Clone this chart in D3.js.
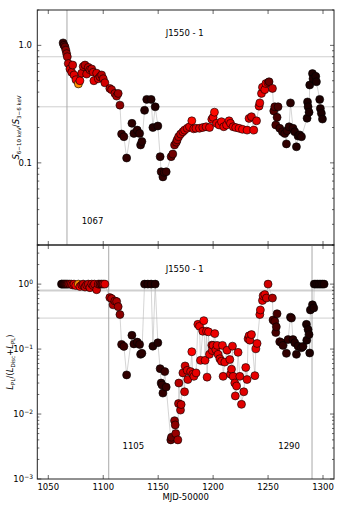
<!DOCTYPE html>
<html>
<head>
<meta charset="utf-8">
<script src="https://cdn.jsdelivr.net/npm/d3@7"></script>
<style>
  body { margin:0; background:#fff; }
  svg text { font-family: "DejaVu Sans", sans-serif; fill:#000; }
</style>
</head>
<body>
<div id="chart"></div>
<script>

// ---------- top panel : hardness ratio S(6-10 keV)/S(3-6 keV) ----------
var hardDay = [1063.5,1064.3,1065.2,1066.0,1066.7,1067.3,1068.2,1069.7,1071.3,1072.2,1073.4,1075.2,1077.4,1078.8,1080.4,1081.8,1083.4,1084.9,1086.4,1087.9,1089.5,1090.9,1091.5,1094.0,1095.5,1097.0,1098.5,1100.0,1101.5,
  1106.0,1107.6,1110.6,1112.2,1113.6,1115.2,1116.7,1118.8,1121.3,
  1126.1,1127.9,1130.9,1133.1,1134.0,1135.2,1137.6,1139.6,1143.6,1145.2,1147.3,1149.7,
  1151.8,1152.7,1154.3,1155.5,1157.3,1161.8,1163.3,1164.9,1166.5,1167.3,1168.6,1170.4,1172.5,1174.0,1176.4,1178.5,1180.6,1182.3,1184.4,
  1187.6,1190.6,1193.6,1196.7,1198.8,1200.0,1201.2,1203.1,1205.5,1207.6,1209.7,1212.2,1214.5,1215.8,1218.2,1220.6,1223.6,1226.7,1230.9,1232.7,1234.9,1237.0,1239.5,
  1241.8,1242.5,1244.0,1244.9,1247.0,1248.0,1250.0,1250.9,1254.0,
  1255.2,1256.1,1257.0,1258.2,1259.1,1260.6,1263.1,1265.2,1266.7,1267.3,1269.1,1270.4,1272.7,1274.3,1275.8,1277.3,1278.8,1280.4,
  1285.5,1285.9,1286.4,1287.3,1287.9,1290.4,1290.9,1293.4,1294.0,1297.0,1297.6,1298.5,1299.5];
var hardRatio = [1.05,1.00,0.97,0.91,0.85,0.80,0.70,0.63,0.59,0.68,0.56,0.51,0.47,0.50,0.58,0.66,0.68,0.57,0.65,0.62,0.63,0.59,0.50,0.58,0.52,0.54,0.56,0.52,0.48,
  0.43,0.42,0.39,0.37,0.39,0.31,0.176,0.167,0.11,
  0.217,0.178,0.19,0.178,0.142,0.152,0.28,0.347,0.347,0.20,0.30,0.206,
  0.113,0.084,0.076,0.083,0.084,0.113,0.119,0.142,0.150,0.157,0.167,0.176,0.184,0.19,0.197,0.203,0.228,0.195,0.197,
  0.197,0.20,0.203,0.20,0.235,0.244,0.27,0.217,0.21,0.224,0.203,0.21,0.228,0.217,0.203,0.20,0.197,0.193,0.19,0.239,0.247,0.19,0.228,
  0.304,0.324,0.39,0.44,0.42,0.473,0.48,0.49,0.43,
  0.277,0.30,0.21,0.244,0.30,0.197,0.184,0.178,0.145,0.188,0.203,0.324,0.197,0.184,0.137,0.169,0.173,0.167,
  0.24,0.33,0.30,0.27,0.46,0.575,0.52,0.545,0.49,0.347,0.29,0.264,0.236];
var hardTone = [0.08,0.12,0.15,0.2,0.22,0.25,0.28,0.3,0.3,0.3,0.32,0.34,0.58,0.36,0.3,0.28,0.26,0.3,0.27,0.29,0.27,0.3,0.33,0.3,0.31,0.28,0.26,0.28,0.3,
  0.27,0.26,0.25,0.24,0.23,0.2,0.08,0.08,0.07,
  0.06,0.06,0.06,0.06,0.06,0.06,0.05,0.05,0.05,0.05,0.05,0.05,
  0.07,0.07,0.07,0.08,0.08,0.14,0.16,0.2,0.22,0.24,0.26,0.28,0.3,0.3,0.31,0.32,0.38,0.32,0.33,
  0.32,0.31,0.33,0.33,0.34,0.34,0.38,0.33,0.34,0.35,0.33,0.34,0.36,0.33,0.33,0.34,0.35,0.35,0.34,0.33,0.3,0.33,0.32,
  0.33,0.33,0.33,0.33,0.33,0.33,0.3,0.15,0.28,
  0.12,0.12,0.1,0.1,0.1,0.08,0.07,0.07,0.07,0.07,0.06,0.06,0.06,0.05,0.05,0.05,0.05,0.05,
  0.04,0.04,0.04,0.04,0.04,0.04,0.04,0.04,0.04,0.04,0.04,0.04,0.04];

// ---------- bottom panel : power-law fraction L_PL/(L_Disc+L_PL) ----------
var plDay = [1062.0,1063.0,1064.0,1065.0,1066.0,1067.0,1068.0,1069.5,1071.0,1072.2,1073.4,1075.0,1077.4,1078.8,1080.4,1081.8,1083.4,1084.9,1086.4,1087.9,1089.5,1090.9,1092.0,1094.0,1095.5,1097.0,1098.5,1100.0,1101.5,
  1106.0,1107.6,1109.0,1110.6,1112.2,1113.6,1115.2,1116.7,1118.8,1121.3,
  1126.1,1127.9,1130.9,1133.1,1134.0,1135.2,1137.6,1140.6,1143.6,1145.2,1147.3,1149.7,
  1151.8,1152.7,1153.5,1154.3,1156.0,1157.3,1161.5,1162.1,1164.9,1165.5,1166.0,1167.9,1168.5,1168.8,1170.3,1170.9,1172.5,1174.0,1174.5,1176.4,1177.0,1179.5,1180.6,1181.5,1182.5,1184.5,
  1186.1,1187.6,1188.5,1190.6,1191.5,1192.7,1194.0,1194.5,1195.8,1196.7,1198.8,1199.2,1200.0,1201.5,1202.5,1203.6,1204.5,1206.1,1207.6,1208.5,1209.1,1210.6,1212.7,1215.2,1215.8,1216.7,1217.6,1218.2,1219.7,1220.2,1221.3,1222.7,1224.3,1225.8,1227.9,1229.7,1230.9,1231.8,1232.7,1233.4,1234.9,1238.0,1238.9,1240.0,
  1242.5,1243.0,1244.9,1245.5,1247.0,1248.5,1250.0,1254.0,
  1254.5,1256.1,1257.0,1257.5,1258.2,1260.6,1262.2,1263.6,1266.7,1268.2,1270.4,1271.3,1272.7,1274.3,1275.8,1277.3,1280.4,1281.8,
  1284.9,1285.2,1286.4,1287.3,1287.9,1288.5,1290.4,1291.6,1292.0,1293.5,1295.0,1296.5,1298.0,1299.5,1301.0];
var plFrac = [1.0,1.0,1.0,1.0,1.0,1.0,1.0,1.0,1.0,0.97,1.0,0.95,1.0,0.92,0.97,1.0,0.90,0.97,1.0,0.88,1.0,0.95,1.0,0.82,1.0,1.0,1.0,1.0,1.0,
  0.62,0.60,0.48,0.55,0.54,0.45,0.34,0.118,0.11,0.04,
  0.163,0.12,0.128,0.118,0.083,0.086,1.0,1.0,1.0,0.111,1.0,0.125,
  0.05,0.030,0.028,0.021,0.045,0.026,0.0040,0.0044,0.0079,0.0068,0.0050,0.0040,0.0145,0.030,0.0115,0.014,0.043,0.022,0.055,0.047,0.034,0.045,0.091,0.041,0.038,0.043,
  0.24,0.224,0.067,0.188,0.274,0.067,0.188,0.037,0.184,0.083,0.115,0.095,0.114,0.173,0.098,0.114,0.083,0.071,0.065,0.114,0.038,0.063,0.096,0.069,0.041,0.049,0.111,0.038,0.030,0.019,0.027,0.089,0.038,0.0141,0.022,0.052,0.034,0.144,0.16,0.137,0.167,0.039,0.101,0.122,
  0.34,0.40,0.56,0.66,0.69,0.61,1.0,0.61,
  0.28,0.267,0.18,0.22,0.35,0.13,0.125,0.114,0.086,0.14,0.31,0.30,0.14,0.125,0.083,0.111,0.105,0.11,
  0.24,0.137,0.20,0.167,0.087,0.40,0.48,0.43,1.0,1.0,1.0,1.0,1.0,1.0,1.0];
var plTone = [0.06,0.07,0.08,0.1,0.12,0.15,0.18,0.22,0.28,0.3,0.32,0.34,0.58,0.36,0.3,0.28,0.28,0.3,0.27,0.3,0.3,0.3,0.28,0.3,0.28,0.2,0.15,0.25,0.32,
  0.27,0.26,0.25,0.25,0.24,0.23,0.2,0.08,0.08,0.07,
  0.06,0.06,0.06,0.06,0.06,0.06,0.05,0.05,0.05,0.05,0.05,0.05,
  0.07,0.07,0.07,0.07,0.08,0.08,0.14,0.15,0.2,0.2,0.22,0.24,0.25,0.26,0.27,0.28,0.29,0.3,0.3,0.31,0.31,0.32,0.37,0.32,0.32,0.33,
  0.33,0.34,0.33,0.33,0.36,0.33,0.34,0.32,0.35,0.33,0.32,0.32,0.33,0.34,0.32,0.33,0.33,0.32,0.33,0.34,0.32,0.33,0.33,0.33,0.32,0.33,0.33,0.32,0.32,0.32,0.33,0.33,0.32,0.32,0.32,0.33,0.32,0.33,0.33,0.32,0.33,0.33,0.33,0.33,
  0.33,0.33,0.33,0.33,0.33,0.3,0.3,0.25,
  0.12,0.12,0.1,0.1,0.1,0.08,0.07,0.07,0.07,0.07,0.06,0.06,0.06,0.05,0.05,0.05,0.05,0.05,
  0.04,0.04,0.04,0.04,0.04,0.04,0.04,0.04,0.04,0.04,0.04,0.04,0.04,0.04,0.04];

// reference lines and marked days
var refLevels = [0.8, 0.3];
var topMarkDays = [1067];
var botMarkDays = [1105, 1290];
var sourceName = "J1550 - 1";
var xTicks = [1050, 1100, 1150, 1200, 1250, 1300];


var width = 341, height = 511;
var left = 37.3, right = 334;
var topY0 = 10, topY1 = 245, botY0 = 245, botY1 = 479;

var svg = d3.select("#chart").append("svg")
    .attr("width", width)
    .attr("height", height);

var x = d3.scaleLinear().domain([1040, 1310]).range([left, right]);
var yTop = d3.scaleLog().domain([0.02, 2]).range([topY1, topY0]);
var yBot = d3.scaleLog().domain([0.001, 4]).range([botY1, botY0]);

// hot colormap (black -> red -> yellow -> white)
var hot = d3.scaleLinear()
    .domain([0, 0.365, 0.746, 1])
    .range(["#000000", "#ff0000", "#ffff00", "#ffffff"])
    .clamp(true);

function drawPanel(id, y, y0, y1, days, vals, tones, marks, labelY) {

    svg.append("clipPath").attr("id", "clip" + id)
        .append("rect")
        .attr("x", left).attr("y", y0)
        .attr("width", right - left).attr("height", y1 - y0);

    var g = svg.append("g").attr("clip-path", "url(#clip" + id + ")");

    //horizontal reference lines
    g.selectAll("line.ref").data(refLevels).enter().append("line")
        .attr("x1", left).attr("x2", right)
        .attr("y1", function(d) {return y(d);})
        .attr("y2", function(d) {return y(d);})
        .style("stroke", "#cfcfcf")
        .style("stroke-width", function(d, i) {return (id == "b" && i == 0) ? 2 : 1;});

    //vertical marker lines
    g.selectAll("line.mark").data(marks).enter().append("line")
        .attr("x1", function(d) {return x(d);})
        .attr("x2", function(d) {return x(d);})
        .attr("y1", y0).attr("y2", y1)
        .style("stroke", "#a8a8a8")
        .style("stroke-width", 1);

    var pts = days.map(function(d, i) {return {day: d, v: vals[i], t: tones[i]};});

    //thin connecting line
    var line = d3.line()
        .x(function(d) {return x(d.day);})
        .y(function(d) {return y(d.v);});

    g.append("path").datum(pts)
        .attr("d", line)
        .style("fill", "none")
        .style("stroke", "#b8b8b8")
        .style("stroke-width", 0.6);

    g.selectAll("circle").data(pts).enter().append("circle")
        .attr("cx", function(d) {return x(d.day);})
        .attr("cy", function(d) {return y(d.v);})
        .attr("r", 4)
        .style("fill", function(d) {return hot(d.t);})
        .style("stroke", "#000")
        .style("stroke-width", 0.6);

    //ticks (inward), both sides
    var ax = svg.append("g");
    xTicks.forEach(function(t) {
        ax.append("line").attr("x1", x(t)).attr("x2", x(t)).attr("y1", y1).attr("y2", y1 - 4).style("stroke", "#000").style("stroke-width", 0.6);
        ax.append("line").attr("x1", x(t)).attr("x2", x(t)).attr("y1", y0).attr("y2", y0 + 4).style("stroke", "#000").style("stroke-width", 0.6);
    });
    var dom = y.domain();
    var lo = Math.floor(Math.log10(dom[0])), hi = Math.ceil(Math.log10(dom[1]));
    for (var e = lo; e <= hi; e++) {
        for (var m = 1; m <= 9; m++) {
            var v = m * Math.pow(10, e);
            if (v < dom[0] * 0.999 || v > dom[1] * 1.001) continue;
            var len = (m == 1) ? 4 : 2;
            ax.append("line").attr("x1", left).attr("x2", left + len).attr("y1", y(v)).attr("y2", y(v)).style("stroke", "#000").style("stroke-width", 0.6);
            ax.append("line").attr("x1", right).attr("x2", right - len).attr("y1", y(v)).attr("y2", y(v)).style("stroke", "#000").style("stroke-width", 0.6);
        }
    }

    //frame
    svg.append("rect")
        .attr("x", left).attr("y", y0)
        .attr("width", right - left).attr("height", y1 - y0)
        .style("fill", "none")
        .style("stroke", "#222")
        .style("stroke-width", 1);

    //source name
    svg.append("text")
        .attr("x", 165.7).attr("y", labelY)
        .style("font-size", "8.5px")
        .text(sourceName);

    return g;
}

drawPanel("t", yTop, topY0, topY1, hardDay, hardRatio, hardTone, topMarkDays, 36);
drawPanel("b", yBot, botY0, botY1, plDay, plFrac, plTone, botMarkDays, 272);

// marker day texts
svg.append("text").attr("x", 81.7).attr("y", 224).style("font-size", "8.5px").text(topMarkDays[0]);
svg.append("text").attr("x", 122.5).attr("y", 449).style("font-size", "8.5px").text(botMarkDays[0]);
svg.append("text").attr("x", 278.3).attr("y", 449).style("font-size", "8.5px").text(botMarkDays[1]);

// top y tick labels
svg.selectAll("text.ytop").data([1.0, 0.1]).enter().append("text")
    .attr("x", 32).attr("y", function(d) {return yTop(d) + 3;})
    .attr("text-anchor", "end")
    .style("font-size", "8.5px")
    .text(function(d) {return d.toFixed(1);});

// bottom y tick labels 10^n
[0, -1, -2, -3].forEach(function(e) {
    var t = svg.append("text")
        .attr("x", 33).attr("y", yBot(Math.pow(10, e)) + 3)
        .attr("text-anchor", "end")
        .style("font-size", "8.5px");
    t.append("tspan").text("10");
    t.append("tspan").attr("dy", -3.5).style("font-size", "6px").text(String(e).replace("-", "\u2212"));
});

// x tick labels
svg.selectAll("text.xt").data(xTicks).enter().append("text")
    .attr("x", function(d) {return x(d);})
    .attr("y", 490)
    .attr("text-anchor", "middle")
    .style("font-size", "8.5px")
    .text(function(d) {return d;});

svg.append("text")
    .attr("x", (left + right) / 2).attr("y", 500)
    .attr("text-anchor", "middle")
    .style("font-size", "8.5px")
    .text("MJD-50000");

// y axis titles (rotated)
var t1 = svg.append("text")
    .attr("transform", "translate(19," + ((topY0 + topY1) / 2) + ") rotate(-90)")
    .attr("text-anchor", "middle")
    .style("font-size", "8.5px");
t1.append("tspan").style("font-style", "italic").text("S");
t1.append("tspan").attr("dy", 2).style("font-size", "5.5px").text("6\u221210 keV");
t1.append("tspan").attr("dy", -2).text("/");
t1.append("tspan").style("font-style", "italic").text("S");
t1.append("tspan").attr("dy", 2).style("font-size", "5.5px").text("3\u22126 keV");

var t2 = svg.append("text")
    .attr("transform", "translate(13," + ((botY0 + botY1) / 2) + ") rotate(-90)")
    .attr("text-anchor", "middle")
    .style("font-size", "8.5px");
t2.append("tspan").style("font-style", "italic").text("L");
t2.append("tspan").attr("dy", 2).style("font-size", "5.5px").text("PL");
t2.append("tspan").attr("dy", -2).text("/(");
t2.append("tspan").style("font-style", "italic").text("L");
t2.append("tspan").attr("dy", 2).style("font-size", "5.5px").text("Disc");
t2.append("tspan").attr("dy", -2).text("+");
t2.append("tspan").style("font-style", "italic").text("L");
t2.append("tspan").attr("dy", 2).style("font-size", "5.5px").text("PL");
t2.append("tspan").attr("dy", -2).text(")");

</script>
</body>
</html>
